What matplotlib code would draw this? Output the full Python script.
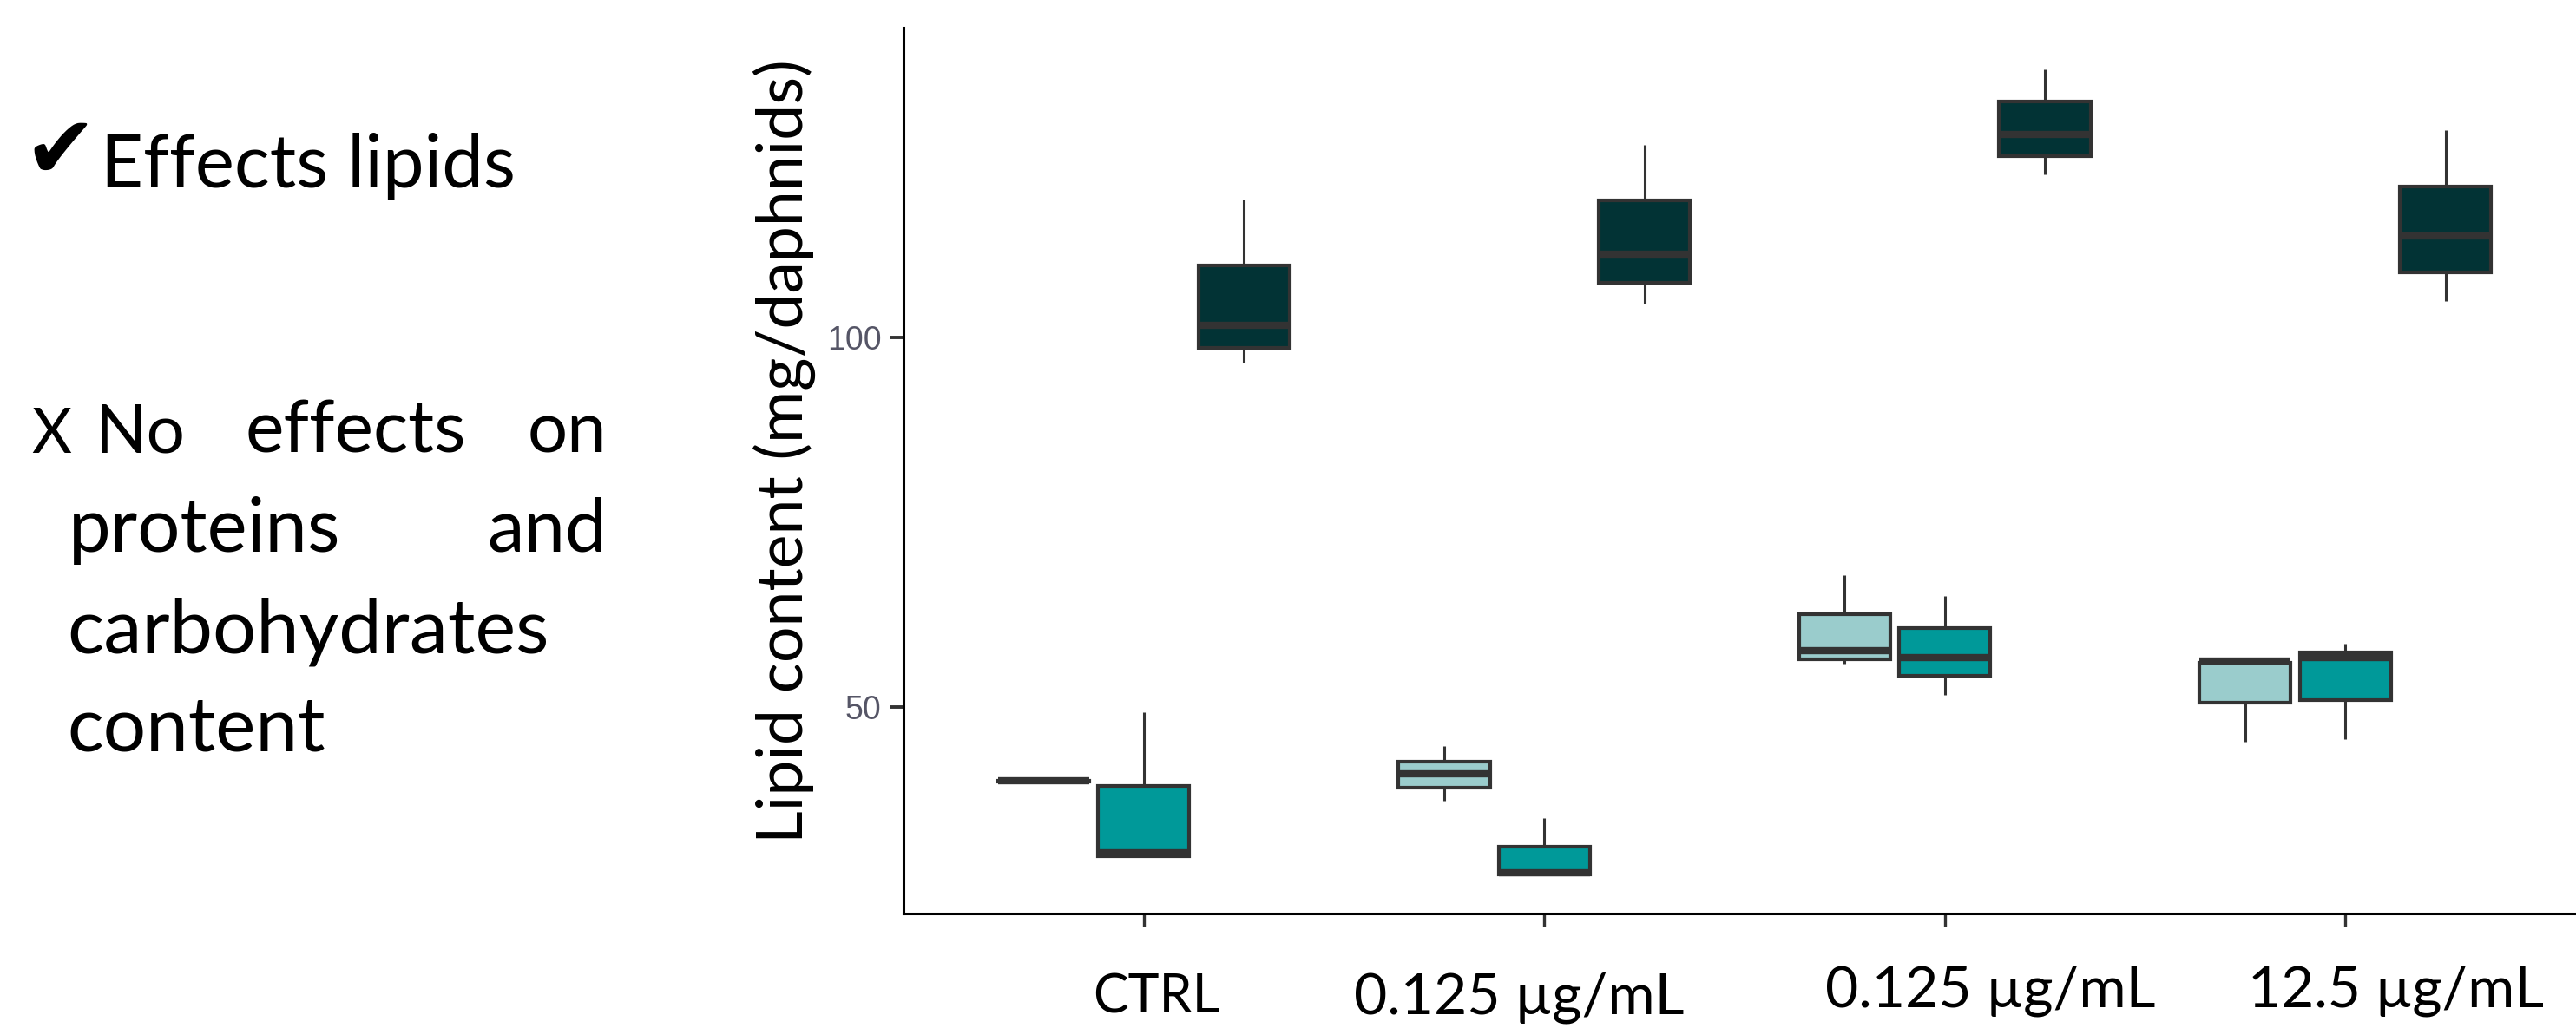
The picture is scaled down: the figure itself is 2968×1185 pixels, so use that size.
import matplotlib
matplotlib.use("Agg")
import matplotlib.pyplot as plt

# ---------------- data ----------------
categories = ["CTRL", "0.125 µg/mL", "0.125 µg/mL", "12.5 µg/mL"]

# five-number summaries per category: whislo, q1, med, q3, whishi
light_whislo = [39.9, 37.3, 55.8, 45.2]
light_q1     = [39.9, 39.0, 56.4, 50.5]
light_med    = [40.0, 40.9, 57.6, 56.2]
light_q3     = [40.0, 42.6, 62.5, 55.9]
light_whishi = [40.0, 44.7, 67.8, 56.2]

teal_whislo = [29.7, 27.3, 51.6, 45.6]
teal_q1     = [29.7, 27.3, 54.2, 50.9]
teal_med    = [30.2, 27.5, 56.65, 56.7]
teal_q3     = [39.3, 31.0, 60.6, 57.3]
teal_whishi = [49.3, 34.9, 65.0, 58.5]

dark_whislo = [96.6, 104.5, 122.0, 104.9]
dark_q1     = [98.6, 107.4, 124.5, 108.8]
dark_med    = [101.6, 111.3, 127.5, 113.7]
dark_q3     = [109.7, 118.5, 131.9, 120.4]
dark_whishi = [118.7, 126.1, 136.3, 128.0]

y_ticks = [50, 100]
y_label = "Lipid content (mg/daphnids)"

# ---------------- figure ----------------
W, H = 2968, 1185
DPI = 100
fig = plt.figure(figsize=(W / DPI, H / DPI), dpi=DPI)
fig.patch.set_facecolor("white")
FONT = ["Lato", "DejaVu Sans"]


def fx(x):
    return x / W


def fy(y_top):
    return 1 - y_top / H


ax_left, ax_right, ax_top, ax_bottom = 1041, 2979, 32, 1053
ax = fig.add_axes([fx(ax_left), fy(ax_bottom), (ax_right - ax_left) / W, (ax_bottom - ax_top) / H])
ax.set_facecolor("white")

EDGE = "#333333"
series = [
    ("#9ACCCC", light_whislo, light_q1, light_med, light_q3, light_whishi),
    ("#009999", teal_whislo, teal_q1, teal_med, teal_q3, teal_whishi),
    ("#023335", dark_whislo, dark_q1, dark_med, dark_q3, dark_whishi),
]
offsets = [-0.25, 0.0, 0.25]
for (color, wlo, q1, med, q3, whi), off in zip(series, offsets):
    stats = []
    for i in range(len(categories)):
        stats.append(dict(whislo=wlo[i], q1=q1[i], med=med[i], q3=q3[i], whishi=whi[i], fliers=[]))
    pos = [i + 1 + off for i in range(len(categories))]
    ax.bxp(stats, positions=pos, widths=0.228, patch_artist=True,
           showcaps=False, showfliers=False, manage_ticks=False,
           boxprops=dict(facecolor=color, edgecolor=EDGE, linewidth=3.0),
           medianprops=dict(color=EDGE, linewidth=6.0, solid_capstyle="butt"),
           whiskerprops=dict(color=EDGE, linewidth=2.2, solid_capstyle="butt"))

ax.set_xlim(0.4, 4.6)
ax.set_ylim(22.0, 141.9)
for s in ["top", "right"]:
    ax.spines[s].set_visible(False)
for s in ["left", "bottom"]:
    ax.spines[s].set_color("black")
    ax.spines[s].set_linewidth(2.2)

ax.set_yticks(y_ticks)
ax.set_yticklabels([str(v) for v in y_ticks], fontsize=27, color="#555566", family="Liberation Sans")
ax.set_xticks([1, 2, 3, 4])
ax.set_xticklabels([])
ax.tick_params(axis="y", direction="out", length=11.5, width=2.8, color=EDGE, pad=7)
ax.tick_params(axis="x", direction="out", length=11, width=2.4, color=EDGE)

renderer = fig.canvas.get_renderer()


def put(x, y, s, target_w, ha="left", va="baseline", rotation=0, size=60, family=FONT):
    t = fig.text(fx(x), fy(y), s, ha=ha, va=va, rotation=rotation, fontsize=size,
                 family=family, color="black")
    bb = t.get_window_extent(renderer=renderer)
    w = bb.height if rotation == 90 else bb.width
    t.set_fontsize(size * target_w / w)
    return t


# x category labels (placed as on the slide)
xl_centers = [1332, 1750, 2293, 2760]
xl_base = [1168, 1168, 1160, 1160]
xl_widths = [146, 381, 381, 341]
for c, b, w, s in zip(xl_centers, xl_base, xl_widths, categories):
    put(c, b, s, w, ha="center")

# y axis title
put(904, 520, y_label, 905, ha="center", va="center", rotation=90)

# left-hand bullet text
put(27, 205, "\u2714", 84, size=60, family=["DejaVu Sans"])
put(116, 216, "Effects lipids", 478)
put(36, 522, "X", 46)
put(110, 522, "No", 104)
put(283, 522, "effects", 255)
put(699, 522, "on", 92, ha="right")
put(79, 636, "proteins", 314)
put(699, 636, "and", 138, ha="right")
put(77, 753, "carbohydrates", 556)
put(77, 865, "content", 298)

fig.savefig("out.png", dpi=DPI, facecolor="white")
